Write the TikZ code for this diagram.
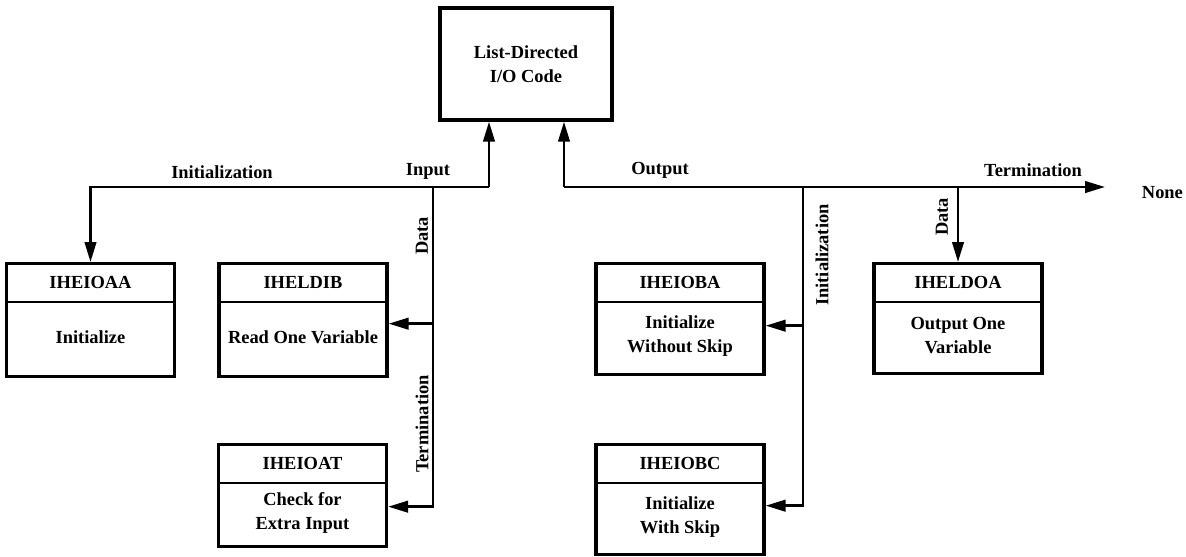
\documentclass[tikz,border=0pt]{standalone}
\usepackage{fontspec}
\setmainfont{Liberation Serif}
\usetikzlibrary{arrows.meta,calc}

\begin{document}
\begin{tikzpicture}[
    x=0.02cm, y=-0.02cm,
    line width=1.5pt,
    >={Triangle[length=0.4cm,width=0.23cm]},
    every node/.style={font=\bfseries\fontsize{10.5}{13.5}\selectfont},
    topbox/.style={draw, line width=1.9pt, align=center,
        minimum width=3.44cm, minimum height=2.24cm},
    modbox/.style={draw, line width=1.9pt, minimum width=3.36cm},
    modhead/.style={minimum width=3.36cm, minimum height=0.75cm, inner sep=0pt},
    modbody/.style={align=center},
    buslabel/.style={inner sep=1pt},
    sidelabel/.style={inner sep=1pt, rotate=90},
]
\useasboundingbox (0,0) rectangle (1186,556);

\node[topbox] (code) at (526,64) {List-Directed\\I/O Code};

% module boxes
\foreach \nm/\cx/\ty/\hgt/\modname/\modtext in {
    ioaa/90.5/262/113/IHEIOAA/Initialize,
    ldib/303/262/113/IHELDIB/Read One Variable,
    ioat/302.5/443/102/IHEIOAT/{Check for\\Extra Input},
    ioba/680/262/111/IHEIOBA/{Initialize\\Without Skip},
    iobc/680/443/110/IHEIOBC/{Initialize\\With Skip},
    ldoa/958/262/110/IHELDOA/{Output One\\Variable}%
}{
    \node[modbox, minimum height=\hgt*0.02cm, anchor=north] (\nm) at (\cx,\ty) {};
    \node[modhead, anchor=north] (\nm-h) at (\nm.north) {\modname};
    \draw[line width=1.1pt] (\nm-h.south west) -- (\nm-h.south east);
    \node[modbody] (\nm-b) at ($(\nm-h.south)!0.46!(\nm.south)$) {\modtext};
}

% bus points
\coordinate (inbus) at (489,187);
\coordinate (indata) at (433,187);
\coordinate (outbus) at (564,187);
\coordinate (outinit) at (803,187);
\coordinate (termend) at (1105,187);

% input side
\draw[->] (inbus) -- (inbus |- code.south);
\draw[->] (inbus) -| (ioaa.north);
\draw[->] (indata) |- ([yshift=-0.07cm]ldib.east);
\draw[->] (indata) |- ([yshift=-0.22cm]ioat.east);

% output side
\draw[->] (outbus) -- (outbus |- code.south);
\draw[->] (outbus) -- (termend);
\draw[->] (outinit) |- ([yshift=-0.13cm]ioba.east);
\draw[->] (outinit) |- ([yshift=-0.12cm]iobc.east);
\draw[->] (ldoa.north |- outbus) -- (ldoa.north);

% labels
\node[buslabel] (l-init) at (222,172) {Initialization};
\node[buslabel] (l-in) at (428,171) {Input};
\node[buslabel] (l-out) at (660,170) {Output};
\node[buslabel] (l-term) at (1033,170) {Termination};
\node[buslabel, anchor=east] (l-none) at (1186,193) {None};
\node[sidelabel] (l-indata) at (422,236) {Data};
\node[sidelabel] (l-interm) at (422,424) {Termination};
\node[sidelabel] (l-outinit) at (822,255) {Initialization};
\node[sidelabel] (l-outdata) at (942,217) {Data};
\end{tikzpicture}
\end{document}
